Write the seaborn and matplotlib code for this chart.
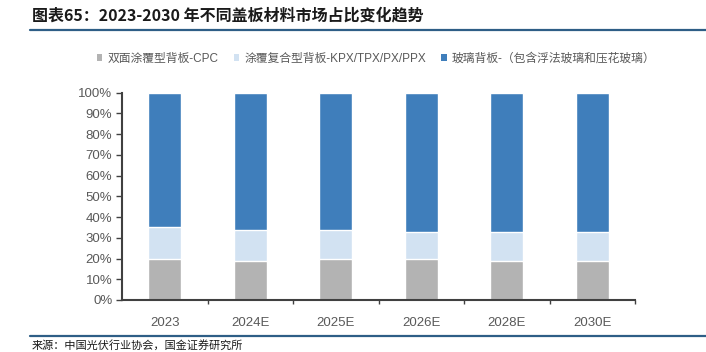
import matplotlib
matplotlib.use("Agg")
import matplotlib.pyplot as plt
import seaborn as sns
import pandas as pd
import numpy as np
from matplotlib.lines import Line2D
from matplotlib.patches import Patch

categories = ["2023", "2024E", "2025E", "2026E", "2028E", "2030E"]
cpc = [20, 19, 20, 20, 19, 19]
kpx = [15, 15, 14, 13, 14, 14]
glass = [65, 66, 66, 67, 67, 67]
series_names = ["双面涂覆型背板-CPC", "涂覆复合型背板-KPX/TPX/PX/PPX", "玻璃背板-（包含浮法玻璃和压花玻璃）"]
colors = ["#B3B3B3", "#D2E2F2", "#3F7EBB"]

sns.set_theme(style="white")
plt.rcParams['font.family'] = ['Liberation Sans', 'Noto Sans CJK SC', 'DejaVu Sans']

W, H = 706, 352
fig = plt.figure(figsize=(W/100, H/100), dpi=100)
ax = fig.add_axes([122/W, 1-300/H, (635-122)/W, (300-92.7)/H])

df = pd.DataFrame({"cat": categories, "cpc": cpc, "kpx": kpx, "glass": glass})
df["l1"] = df["cpc"]
df["l2"] = df["cpc"] + df["kpx"]
df["l3"] = df["cpc"] + df["kpx"] + df["glass"]

for col, c in zip(["l3", "l2", "l1"], [colors[2], colors[1], colors[0]]):
    sns.barplot(data=df, x="cat", y=col, color=c, width=0.39, ax=ax,
                edgecolor="white", linewidth=1.0, saturation=1)

ax.set_xlim(-0.5, len(categories)-0.5)
ax.set_ylim(0, 100)
ax.set_yticks(np.arange(0, 101, 10))
ax.set_yticklabels([f"{v}%" for v in range(0, 101, 10)])
ax.set_xlabel("")
ax.set_ylabel("")
for s in ["top", "right"]:
    ax.spines[s].set_visible(False)
for s in ["left", "bottom"]:
    ax.spines[s].set_color("#404040")
    ax.spines[s].set_linewidth(1.5)
ax.tick_params(axis="y", which="both", left=True, length=4, width=1, color="#404040",
               labelsize=9.5, labelcolor="#595959", pad=3)
ax.set_xticks(range(len(categories)))
ax.set_xticklabels(categories)
ax.tick_params(axis="x", bottom=False, labelsize=9.5, labelcolor="#595959", pad=6)
ax.set_xticks(np.arange(0.5, len(categories), 1), minor=True)
ax.tick_params(axis="x", which="minor", bottom=True, length=3, width=1, color="#404040")
ax.grid(False)

handles = [Patch(facecolor=c, edgecolor="none") for c in colors]
fig.legend(handles, series_names, loc="center", bbox_to_anchor=(376/W, 1-59/H), ncol=3,
           frameon=False, fontsize=8.5, labelcolor="#595959", handlelength=0.5,
           handleheight=0.5, handletextpad=0.4, columnspacing=1.3)

fig.text(32/W, 1-16/H, "图表65：2023-2030 年不同盖板材料市场占比变化趋势", fontsize=11.5,
         fontweight="bold", color="#1a1a1a", va="center", ha="left",
         family=['Noto Sans CJK SC', 'DejaVu Sans'])
fig.add_artist(Line2D([30/W, 1], [1-29.5/H, 1-29.5/H], color="#2E5E86", lw=1.6))
fig.add_artist(Line2D([30/W, 1], [1-336/H, 1-336/H], color="#2E5E86", lw=1.6))
fig.text(32/W, 1-340/H, "来源：中国光伏行业协会，国金证券研究所", fontsize=8,
         color="#1a1a1a", va="top", ha="left", family=['Noto Sans CJK SC', 'DejaVu Sans'])

fig.savefig("out.png", dpi=100)
